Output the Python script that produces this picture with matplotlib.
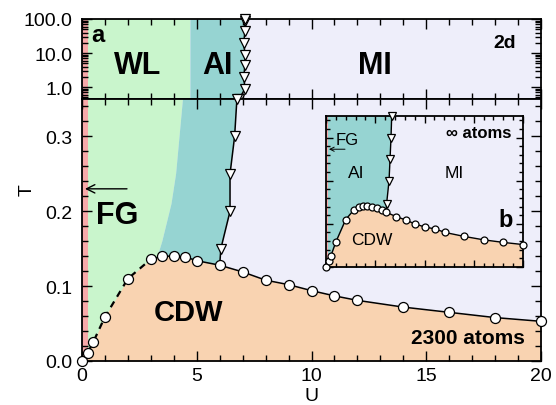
import numpy as np
import matplotlib
matplotlib.use('Agg')
import matplotlib.pyplot as plt
from matplotlib.ticker import MultipleLocator, LogLocator, NullFormatter

plt.rcParams['font.family'] = ['Liberation Sans', 'DejaVu Sans']

# phase colours
c_fg = '#f7a9a9'
c_wl = '#c9f5cc'
c_ai = '#96d4d2'
c_mi = '#eeeefa'
c_cdw = '#f9d3b1'

# CDW dome, 2300 atoms (circles)
cdw_U = [0, 0.25, 0.5, 1, 2, 3, 3.5, 4, 4.5, 5, 6, 7, 8, 9, 10, 11, 12, 14, 16, 18, 20]
cdw_T = [0.0, 0.011, 0.026, 0.059, 0.110, 0.136, 0.140, 0.140, 0.139, 0.134, 0.128,
         0.119, 0.108, 0.102, 0.094, 0.087, 0.081, 0.072, 0.065, 0.058, 0.053]
n_dashed = 6  # first points joined by a dashed line

# AI / MI boundary (triangles), low T (first point = end on the dome)
aimi_U = [6.0, 6.05, 6.45, 6.45, 6.65, 6.75]
aimi_T = [0.128, 0.15, 0.2, 0.25, 0.3, 0.35]

# AI / MI boundary, high T (log panel)
aimi_hi_U = [6.85, 7.1, 7.05, 7.1, 7.1, 7.05, 7.1, 7.1, 7.1]
aimi_hi_T = [0.45, 0.9, 2, 4.5, 9, 20, 45, 85, 100]

# WL / AI crossover
wlai_U = [4.4, 4.1, 3.9, 3.5, 3.1]
wlai_T = [0.35, 0.25, 0.21, 0.16, 0.12]
wlai_hi_U = 4.7
fg_U = 0.25

# infinite system (inset)
inf_U = [0, 0.3, 0.5, 1, 2, 2.85, 3.35, 3.8, 4.2, 4.65, 5.15, 5.65, 6.1, 7.1, 8.1,
         9, 10, 11.1, 12.1, 14, 16, 18, 20]
inf_T = [0.0, 0.013, 0.026, 0.058, 0.110, 0.133, 0.138, 0.141, 0.141, 0.140, 0.136,
         0.133, 0.127, 0.117, 0.109, 0.100, 0.093, 0.088, 0.080, 0.071, 0.063, 0.057, 0.052]
inf_tri_U = [6.1, 6.15, 6.4, 6.5, 6.6, 6.67]
inf_tri_T = [0.127, 0.146, 0.2, 0.25, 0.3, 0.35]


def style(a, major=7, minor=4):
    a.tick_params(which='both', direction='in', top=True, right=True,
                  width=1, colors='k', labelsize=14)
    a.tick_params(which='major', length=major)
    a.tick_params(which='minor', length=minor)
    a.tick_params(axis='x', pad=4)
    a.tick_params(axis='y', pad=7)
    for s in a.spines.values():
        s.set_linewidth(1.3)


W, H = 556, 406
fig = plt.figure(figsize=(W / 100, H / 100), dpi=100)
ax_top = fig.add_axes([82 / W, 1 - 100 / H, 459 / W, 80 / H])
ax = fig.add_axes([82 / W, 1 - 362 / H, 459 / W, 262 / H])
ax_in = fig.add_axes([326 / W, 1 - 268 / H, 197 / W, 151 / H])

circ = dict(marker='o', mfc='white', mec='k', mew=0.9, clip_on=False, zorder=5)
tri = dict(marker='v', mfc='white', mec='k', mew=0.9, clip_on=False, zorder=5)

# ---- upper (log) panel ----
ax_top.set_facecolor(c_mi)
ax_top.set_yscale('log')
ax_top.set_xlim(0, 20)
ax_top.set_ylim(0.45, 100)
ax_top.axvspan(0, fg_U, color=c_fg, lw=0)
ax_top.axvspan(fg_U, wlai_hi_U, color=c_wl, lw=0)
ax_top.fill_betweenx(aimi_hi_T, wlai_hi_U, aimi_hi_U, color=c_ai, lw=0)
ax_top.plot(aimi_hi_U, aimi_hi_T, color='k', lw=1.1, ms=7, **tri)
style(ax_top)
ax_top.xaxis.set_major_locator(MultipleLocator(5))
ax_top.xaxis.set_minor_locator(MultipleLocator(1))
ax_top.set_yticks([1, 10, 100], ['1.0', '10.0', '100.0'])
ax_top.yaxis.set_minor_locator(LogLocator(subs=np.arange(2, 10)))
ax_top.yaxis.set_minor_formatter(NullFormatter())
ax_top.tick_params(labelbottom=False)

bt = ax_top.get_xaxis_transform()
ax_top.text(0.39, 0.8, 'a', transform=bt, fontsize=17, fontweight='bold', ha='left', va='center')
ax_top.text(2.42, 0.43, 'WL', transform=bt, fontsize=22, fontweight='bold', ha='center', va='center')
ax_top.text(5.9, 0.43, 'AI', transform=bt, fontsize=22, fontweight='bold', ha='center', va='center')
ax_top.text(12.75, 0.43, 'MI', transform=bt, fontsize=22, fontweight='bold', ha='center', va='center')
ax_top.text(18.4, 0.70, '2d', transform=bt, fontsize=14, fontweight='bold', ha='center', va='center')

# ---- lower (linear) panel ----
ax.set_facecolor(c_mi)
ax.set_xlim(0, 20)
ax.set_ylim(0, 0.35)
wl_poly = [(0, 0), (0, 0.35)] + list(zip(wlai_U, wlai_T)) + [(2.5, 0)]
ax.fill(*zip(*wl_poly), color=c_wl, lw=0)
ai_poly = list(zip(wlai_U, wlai_T)) + [(6.0, 0.12)] + list(zip(aimi_U, aimi_T))
ax.fill(*zip(*ai_poly), color=c_ai, lw=0)
ax.axvspan(0, fg_U, color=c_fg, lw=0)
ax.fill_between(cdw_U, 0, cdw_T, color=c_cdw, lw=0)

ax.plot(cdw_U[:n_dashed], cdw_T[:n_dashed], color='k', lw=1.6, ls=(0, (3, 2.5)), zorder=4)
ax.plot(cdw_U[n_dashed - 1:], cdw_T[n_dashed - 1:], color='k', lw=1.1, zorder=4)
ax.plot(cdw_U, cdw_T, ls='none', ms=7.2, **circ)
ax.plot(aimi_U, aimi_T, color='k', lw=1.1, zorder=4)
ax.plot(aimi_U[1:], aimi_T[1:], ls='none', ms=7, **tri)

style(ax)
ax.xaxis.set_major_locator(MultipleLocator(5))
ax.xaxis.set_minor_locator(MultipleLocator(1))
ax.set_yticks([0, 0.1, 0.2, 0.3], ['0.0', '0.1', '0.2', '0.3'])
ax.yaxis.set_minor_locator(MultipleLocator(0.02))

ax.annotate('', xy=(0.13, 0.23), xytext=(1.96, 0.23),
            arrowprops=dict(arrowstyle='->,head_length=0.6,head_width=0.3',
                            color='k', lw=1, shrinkA=0, shrinkB=0))
ax.text(1.55, 0.195, 'FG', fontsize=22, fontweight='bold', ha='center', va='center')
ax.text(4.66, 0.066, 'CDW', fontsize=21, fontweight='bold', ha='center', va='center')
ax.text(16.8, 0.031, '2300 atoms', fontsize=15, fontweight='bold', ha='center', va='center')

fig.text(27 / W, 1 - 190 / H, 'T', rotation=90, fontsize=14, ha='center', va='center')
fig.text(312 / W, 1 - 397 / H, 'U', fontsize=14, ha='center', va='center')

# ---- inset: infinite system ----
ax_in.set_facecolor(c_mi)
ax_in.set_xlim(0, 20)
ax_in.set_ylim(0, 0.35)
ai_in = [(0, 0), (0, 0.35)] + list(zip(inf_tri_U, inf_tri_T))[::-1] + [(6.1, 0)]
ax_in.fill(*zip(*ai_in), color=c_ai, lw=0)
ax_in.axvspan(0, fg_U, color=c_fg, lw=0)
ax_in.fill_between(inf_U, 0, inf_T, color=c_cdw, lw=0)
ax_in.plot(inf_U, inf_T, color='k', lw=1, ms=5, **circ)
ax_in.plot(inf_tri_U, inf_tri_T, color='k', lw=1, zorder=4)
ax_in.plot(inf_tri_U[1:], inf_tri_T[1:], ls='none', ms=5.5, **tri)
style(ax_in, major=5, minor=3)
ax_in.xaxis.set_major_locator(MultipleLocator(5))
ax_in.xaxis.set_minor_locator(MultipleLocator(1))
ax_in.yaxis.set_major_locator(MultipleLocator(0.1))
ax_in.yaxis.set_minor_locator(MultipleLocator(0.02))
ax_in.tick_params(labelleft=False, labelbottom=False)

ax_in.annotate('', xy=(0.3, 0.273), xytext=(1.93, 0.273),
               arrowprops=dict(arrowstyle='->,head_length=0.3,head_width=0.15',
                               color='k', lw=0.7, shrinkA=0, shrinkB=0))
ax_in.text(2.18, 0.296, 'FG', fontsize=12, ha='center', va='center')
ax_in.text(3.05, 0.218, 'AI', fontsize=12.5, ha='center', va='center')
ax_in.text(13.0, 0.218, 'MI', fontsize=12.5, ha='center', va='center')
ax_in.text(4.67, 0.063, 'CDW', fontsize=12.5, ha='center', va='center')
ax_in.text(15.5, 0.311, '∞ atoms', fontsize=12, fontweight='bold', ha='center', va='center')
ax_in.text(18.2, 0.111, 'b', fontsize=17, fontweight='bold', ha='center', va='center')

fig.savefig('out.png', dpi=100)
